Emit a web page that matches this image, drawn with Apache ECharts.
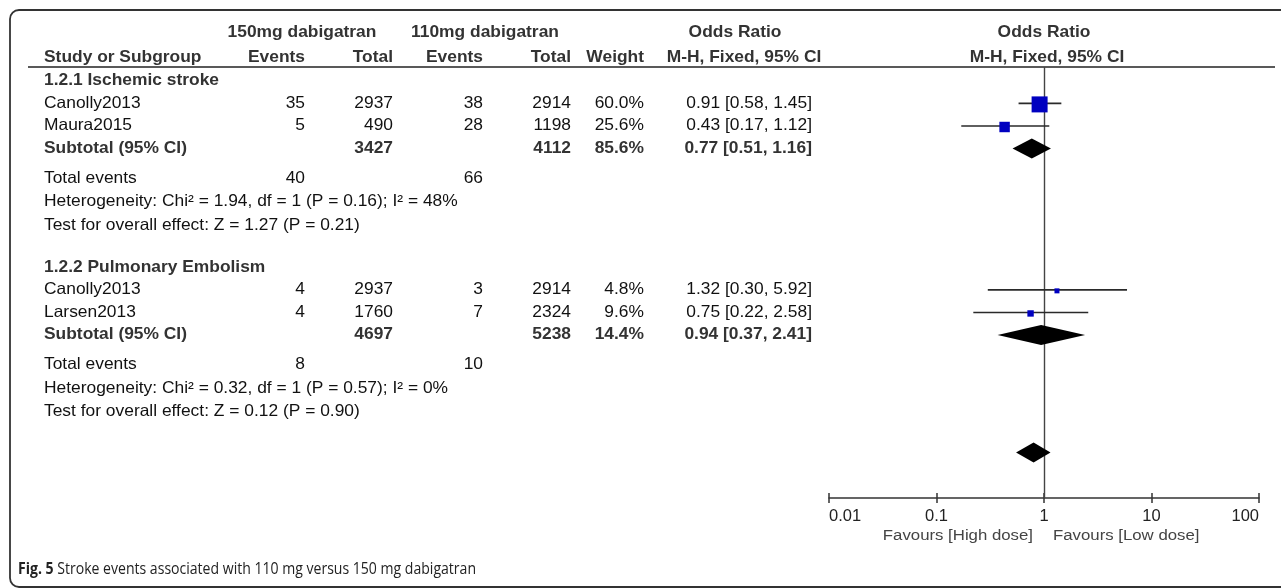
<!DOCTYPE html>
<html><head><meta charset="utf-8">
<script src="https://cdn.jsdelivr.net/npm/echarts@6/dist/echarts.min.js"></script>
<style>html,body{margin:0;padding:0;background:#fff;}#c{width:1281px;height:588px;}</style>
</head><body><div id="c"></div>
<script>
// ---------------- data ----------------
const groupNames = ["1.2.1 Ischemic stroke", "1.2.2 Pulmonary Embolism"];
const studyNames = ["Canolly2013", "Maura2015", "Canolly2013", "Larsen2013"];
const studyGroup = [0, 0, 1, 1];
const highEvents = [35, 5, 4, 4];
const highTotal = [2937, 490, 2937, 1760];
const lowEvents = [38, 28, 3, 7];
const lowTotal = [2914, 1198, 2914, 2324];
const weights = [60.0, 25.6, 4.8, 9.6];
const oddsRatio = [0.91, 0.43, 1.32, 0.75];
const ciLower = [0.58, 0.17, 0.30, 0.22];
const ciUpper = [1.45, 1.12, 5.92, 2.58];

const subHighTotal = [3427, 4697];
const subLowTotal = [4112, 5238];
const subWeight = [85.6, 14.4];
const subOR = [0.77, 0.94];
const subLower = [0.51, 0.37];
const subUpper = [1.16, 2.41];
const totalHighEvents = [40, 8];
const totalLowEvents = [66, 10];
const heterogeneity = [
  "Heterogeneity: Chi\u00b2 = 1.94, df = 1 (P = 0.16); I\u00b2 = 48%",
  "Heterogeneity: Chi\u00b2 = 0.32, df = 1 (P = 0.57); I\u00b2 = 0%"
];
const overallTest = [
  "Test for overall effect: Z = 1.27 (P = 0.21)",
  "Test for overall effect: Z = 0.12 (P = 0.90)"
];
// pooled diamond (no text row in the figure)
const pooledOR = [0.80];
const pooledLower = [0.55];
const pooledUpper = [1.15];

const tickLabels = ["0.01", "0.1", "1", "10", "100"];
const favourLeft = "Favours [High dose]";
const favourRight = "Favours [Low dose]";
const captionBold = "Fig. 5";
const caption = "Stroke events associated with 110 mg versus 150 mg dabigatran";

// ---------------- row layout (in row units) ----------------
const rows = [];
let yy = 0;
groupNames.forEach((gname, g) => {
  rows.push({kind: 'heading', g: g, y: yy});
  studyNames.forEach((s, i) => { if (studyGroup[i] === g) { yy += 1; rows.push({kind: 'study', i: i, y: yy}); } });
  yy += 1; rows.push({kind: 'subtotal', g: g, y: yy});
  yy += 1.32; rows.push({kind: 'total', g: g, y: yy});
  yy += 1.05; rows.push({kind: 'het', g: g, y: yy});
  yy += 1.03; rows.push({kind: 'test', g: g, y: yy});
  if (g < groupNames.length - 1) yy += 1.85;
});
yy += 1.8; rows.push({kind: 'pooled', y: yy});

const studyData = rows.filter(r => r.kind === 'study').map(r =>
  [oddsRatio[r.i], ciLower[r.i], ciUpper[r.i], r.y, weights[r.i]]);
const diamondData = rows.filter(r => r.kind === 'subtotal').map(r =>
  [subOR[r.g], subLower[r.g], subUpper[r.g], r.y]);
rows.filter(r => r.kind === 'pooled').forEach(r => diamondData.push([pooledOR[0], pooledLower[0], pooledUpper[0], r.y]));

const FF = '"Liberation Sans", Arial, Helvetica, sans-serif';
const FS = 17.4;
const SY = 0.9;

const chart = echarts.init(document.getElementById('c'), null, {renderer: 'canvas'});

const rowUnit = 22.6, gridTop = 67, gridH = 431;
const yMin = -13.8 / rowUnit;
const yMax = yMin + gridH / rowUnit;
const gridBox = {left: 829, right: 22, top: gridTop, bottom: 588 - 498};

chart.setOption({
  animation: false,
  backgroundColor: '#fff',
  grid: [Object.assign({}, gridBox), Object.assign({}, gridBox)],
  xAxis: [{
    gridIndex: 0, type: 'log', logBase: 10, min: 0.01, max: 100, position: 'bottom',
    axisLine: {show: true, onZero: false, lineStyle: {color: '#333', width: 1.5}},
    axisTick: {show: true, inside: true, length: 5, lineStyle: {color: '#333', width: 1.5}},
    axisLabel: {show: true, color: '#222', fontSize: 16.5, fontFamily: FF, margin: 10,
      alignMinLabel: 'left', alignMaxLabel: 'right',
      formatter: (v, i) => tickLabels[i]},
    splitLine: {show: false}
  }, {
    gridIndex: 1, type: 'log', logBase: 10, min: 0.01, max: 100, position: 'bottom',
    axisLine: {show: false, onZero: false},
    axisTick: {show: true, inside: false, length: 5, lineStyle: {color: '#333', width: 1.5}},
    axisLabel: {show: false}, splitLine: {show: false}
  }],
  yAxis: [
    {gridIndex: 0, type: 'value', min: yMin, max: yMax, inverse: true, show: false},
    {gridIndex: 1, type: 'value', min: yMin, max: yMax, inverse: true, show: false}
  ],
  series: [{
    type: 'custom', name: 'studies', xAxisIndex: 0, yAxisIndex: 0, z: 5,
    data: studyData,
    renderItem: function (params, api) {
      const y = api.value(3);
      const p0 = api.coord([api.value(1), y]);
      const p1 = api.coord([api.value(2), y]);
      const c = api.coord([api.value(0), y]);
      const s = Math.max(5, 16 * Math.sqrt(api.value(4) / 60));
      return {type: 'group', children: [
        {type: 'line', shape: {x1: p0[0], y1: p0[1], x2: p1[0], y2: p1[1]}, style: {stroke: '#2a2a2a', lineWidth: 1.6}},
        {type: 'rect', shape: {x: c[0] - s / 2, y: c[1] - s / 2 + 1, width: s, height: s}, style: {fill: '#0000c0'}}
      ]};
    },
    markLine: {
      silent: true, symbol: ['none', 'none'], label: {show: false},
      lineStyle: {color: '#444', width: 1.4, type: 'solid'},
      data: [{xAxis: 1}], z: 2
    }
  }, {
    type: 'custom', name: 'diamonds', xAxisIndex: 0, yAxisIndex: 0, z: 6,
    data: diamondData,
    renderItem: function (params, api) {
      const y = api.value(3);
      const l = api.coord([api.value(1), y]);
      const r = api.coord([api.value(2), y]);
      const c = api.coord([api.value(0), y]);
      const h = 10;
      return {type: 'polygon', shape: {points: [[l[0], c[1]], [c[0], c[1] - h], [r[0], c[1]], [c[0], c[1] + h]]},
        style: {fill: '#000'}};
    }
  }]
});

// ---------------- table text ----------------
function px(v) { return chart.convertToPixel({yAxisIndex: 0}, v); }
function T(s, x, y, align, bold, color, size, sy) {
  return {type: 'text', x: x, y: y, z: 10, silent: true, scaleY: sy || SY,
    style: {text: String(s), font: (bold ? 'bold ' : '') + (size || FS) + 'px ' + FF,
      fill: color || (bold ? '#333' : '#111'), align: align, verticalAlign: 'middle'}};
}
const col = {label: 44, ev1: 305, tot1: 393, ev2: 483, tot2: 571, wt: 644, or: 812};
const fmtOR = (o, l, h) => o.toFixed(2) + ' [' + l.toFixed(2) + ', ' + h.toFixed(2) + ']';
const fmtW = w => w.toFixed(1) + '%';

const g = [];
g.push({type: 'rect', z: 1, silent: true, shape: {x: 10, y: 10, width: 1300, height: 577, r: 9},
  style: {fill: 'none', stroke: '#333', lineWidth: 1.8}});
g.push({type: 'line', z: 1, silent: true, shape: {x1: 28, y1: 67, x2: 1275, y2: 67},
  style: {stroke: '#222', lineWidth: 1.6}});
// headers
g.push(T('150mg dabigatran', 302, 33, 'center', true));
g.push(T('110mg dabigatran', 485, 33, 'center', true));
g.push(T('Odds Ratio', 735, 33, 'center', true));
g.push(T('Odds Ratio', 1044, 33, 'center', true));
g.push(T('Study or Subgroup', col.label, 58, 'left', true));
g.push(T('Events', col.ev1, 58, 'right', true));
g.push(T('Total', col.tot1, 58, 'right', true));
g.push(T('Events', col.ev2, 58, 'right', true));
g.push(T('Total', col.tot2, 58, 'right', true));
g.push(T('Weight', col.wt, 58, 'right', true));
g.push(T('M-H, Fixed, 95% CI', 744, 58, 'center', true));
g.push(T('M-H, Fixed, 95% CI', 1047, 58, 'center', true));

rows.forEach(r => {
  const y = px(r.y);
  if (r.kind === 'heading') {
    g.push(T(groupNames[r.g], col.label, y, 'left', true));
  } else if (r.kind === 'study') {
    const i = r.i;
    g.push(T(studyNames[i], col.label, y, 'left'));
    g.push(T(highEvents[i], col.ev1, y, 'right'));
    g.push(T(highTotal[i], col.tot1, y, 'right'));
    g.push(T(lowEvents[i], col.ev2, y, 'right'));
    g.push(T(lowTotal[i], col.tot2, y, 'right'));
    g.push(T(fmtW(weights[i]), col.wt, y, 'right'));
    g.push(T(fmtOR(oddsRatio[i], ciLower[i], ciUpper[i]), col.or, y, 'right'));
  } else if (r.kind === 'subtotal') {
    const k = r.g;
    g.push(T('Subtotal (95% CI)', col.label, y, 'left', true));
    g.push(T(subHighTotal[k], col.tot1, y, 'right', true));
    g.push(T(subLowTotal[k], col.tot2, y, 'right', true));
    g.push(T(fmtW(subWeight[k]), col.wt, y, 'right', true));
    g.push(T(fmtOR(subOR[k], subLower[k], subUpper[k]), col.or, y, 'right', true));
  } else if (r.kind === 'total') {
    g.push(T('Total events', col.label, y, 'left'));
    g.push(T(totalHighEvents[r.g], col.ev1, y, 'right'));
    g.push(T(totalLowEvents[r.g], col.ev2, y, 'right'));
  } else if (r.kind === 'het') {
    g.push(T(heterogeneity[r.g], col.label, y, 'left'));
  } else if (r.kind === 'test') {
    g.push(T(overallTest[r.g], col.label, y, 'left'));
  }
});

const x1 = chart.convertToPixel({xAxisIndex: 0}, 1);
g.push(T(favourLeft, x1 - 11, 536, 'right', false, '#444', 16.8, 0.92));
g.push(T(favourRight, x1 + 9, 536, 'left', false, '#444', 16.8, 0.92));

// caption: humanist sans, condensed horizontally to the width seen in the figure
const capFF = '"Open Sans", "Noto Sans", sans-serif';
const capSize = 16.5;
const ctx = document.createElement('canvas').getContext('2d');
ctx.font = 'bold ' + capSize + 'px ' + capFF;
const wB = ctx.measureText(captionBold).width;
ctx.font = capSize + 'px ' + capFF;
const wR = ctx.measureText(' ' + caption).width;
const capScale = Math.min(1, 458 / (wB + wR));
g.push({type: 'text', x: 18, y: 569, z: 10, silent: true, scaleX: capScale,
  style: {text: '{b|' + captionBold + '} ' + caption, fontSize: capSize, fontFamily: capFF, fill: '#222', verticalAlign: 'middle',
    rich: {b: {fontWeight: 'bold', fontSize: capSize, fontFamily: capFF, fill: '#222'}}}});

chart.setOption({graphic: g});
</script></body></html>
